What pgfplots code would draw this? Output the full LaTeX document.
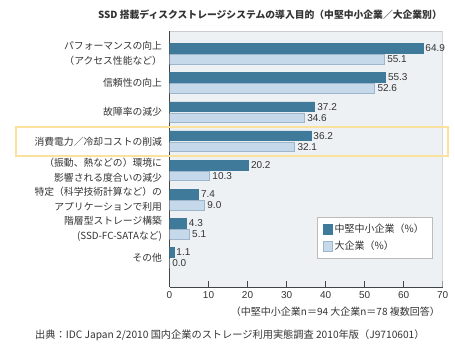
\documentclass[border=0pt]{standalone}
\usepackage{fontspec}
\setmainfont{Noto Sans CJK JP}
\newfontfamily\num{Liberation Sans}
\usepackage{pgfplots}
\pgfplotsset{compat=1.18}
\definecolor{darkbar}{HTML}{3F7A9B}
\definecolor{lightbar}{HTML}{C6D9EA}
\definecolor{lightbd}{HTML}{9DB6CC}
\definecolor{bgc}{HTML}{EDF1F4}
\definecolor{axc}{HTML}{444444}
\definecolor{brc}{HTML}{C8CCD0}
\definecolor{txt}{HTML}{333333}
\definecolor{hl}{HTML}{FAE29E}
\definecolor{legc}{HTML}{BBBBBB}
\begin{document}
\begin{tikzpicture}
\useasboundingbox (0,0) rectangle (455bp,350bp);
\begin{axis}[
  scale only axis, width=273.2bp, height=256bp,
  at={(169.5bp,63bp)}, anchor=south west,
  xmin=0, xmax=70, ymin=-0.994, ymax=7.78,
  xbar, bar width=9.6bp,
  axis background/.style={fill=bgc},
  axis x line=bottom, axis y line=left,
  x axis line style={draw=axc, line width=0.8bp, -},
  y axis line style={draw=axc, line width=1.6bp, -},
  xtick={0,10,...,70}, xtick align=inside, major tick length=6bp,
  xtick style={draw=axc, line width=0.9bp},
  xticklabel style={font=\num\fontsize{10bp}{12bp}\selectfont, text=txt, yshift=-1bp},
  /pgf/number format/assume math mode=true,
  ytick={0,...,7},
  yticklabels={{その他},{階層型ストレージ構築\\(SSD-FC-SATAなど)},{特定（科学技術計算など）の\\アプリケーションで利用},{（振動、熱などの）環境に\\影響される度合いの減少},{消費電力／冷却コストの削減},{故障率の減少},{信頼性の向上},{パフォーマンスの向上\\（アクセス性能など）}},
  ytick style={draw=none},
  yticklabel style={align=right, font=\fontsize{9.8bp}{15bp}\selectfont, text=txt, xshift=-1bp},
  point meta=x,
  nodes near coords={\pgfmathprintnumber[fixed,fixed zerofill,precision=1]{\pgfplotspointmeta}},
  nodes near coords style={anchor=west, inner sep=2.5bp, font=\num\fontsize{10bp}{11bp}\selectfont, text=txt},
  legend style={at={(0.961,0.273)}, anchor=north east, draw=legc, fill=white,
    font=\fontsize{10bp}{11bp}\selectfont, text=txt, inner xsep=6bp, inner ysep=5bp,
    row sep=3bp, cells={anchor=west}},
  legend image code/.code={\draw[#1, line width=0.5bp] (0bp,-4.8bp) rectangle (9bp,4.8bp);},
]
\draw[brc, line width=0.8bp] (rel axis cs:0,1) -- (rel axis cs:1,1) -- (rel axis cs:1,0);
\addplot[fill=darkbar, draw=darkbar, bar shift=5.5bp] coordinates {
  (1.1,0) (4.3,1) (7.4,2) (20.2,3) (36.2,4) (37.2,5) (55.3,6) (64.9,7)};
\addplot[fill=lightbar, draw=lightbd, line width=0.6bp, bar shift=-5.5bp] coordinates {
  (0.0,0) (5.1,1) (9.0,2) (10.3,3) (32.1,4) (34.6,5) (52.6,6) (55.1,7)};
\legend{中堅中小企業（\%）, 大企業（\%）}
\end{axis}
\draw[hl, line width=2bp] (16bp,194bp) rectangle (448bp,223bp);
\node[anchor=east, font=\bfseries\fontsize{9.8bp}{11bp}\selectfont, text=txt, inner sep=0pt] at (442bp,335bp) {SSD 搭載ディスクストレージシステムの導入目的（中堅中小企業／大企業別）};
\node[anchor=east, font=\fontsize{10bp}{11bp}\selectfont, text=txt, inner sep=0pt] at (440bp,38bp) {（中堅中小企業n＝94 大企業n＝78 複数回答）};
\node[anchor=west, font=\fontsize{10.2bp}{11bp}\selectfont, text=txt, inner sep=0pt] at (35bp,15bp) {出典：IDC Japan 2/2010 国内企業のストレージ利用実態調査 2010年版（J9710601）};
\end{tikzpicture}
\end{document}
